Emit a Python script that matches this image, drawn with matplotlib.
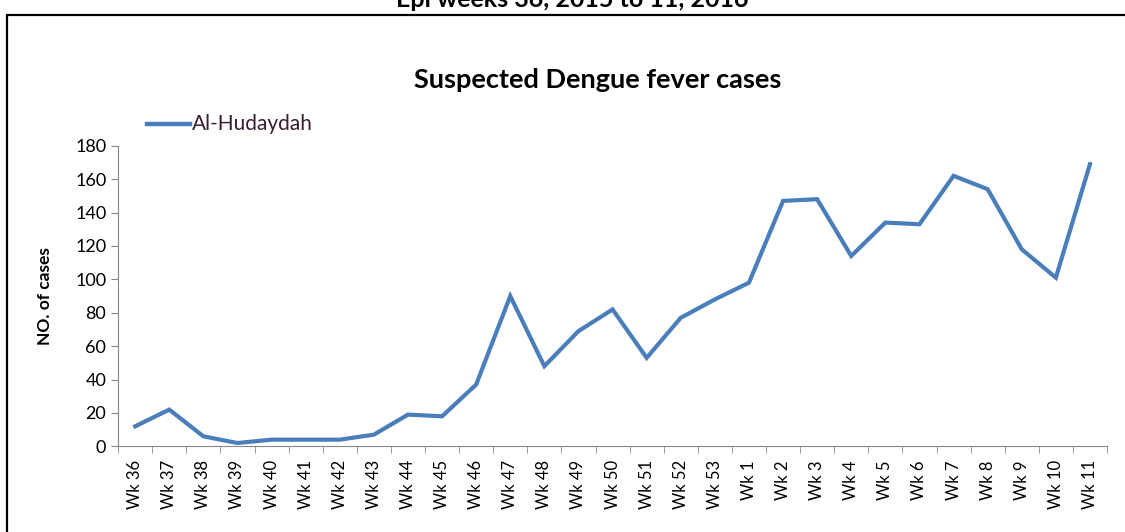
import matplotlib.pyplot as plt
from matplotlib.patches import Rectangle
from matplotlib.lines import Line2D

plt.rcParams['font.family'] = ['Lato', 'DejaVu Sans']

weeks = ['Wk 36', 'Wk 37', 'Wk 38', 'Wk 39', 'Wk 40', 'Wk 41', 'Wk 42', 'Wk 43',
         'Wk 44', 'Wk 45', 'Wk 46', 'Wk 47', 'Wk 48', 'Wk 49', 'Wk 50', 'Wk 51',
         'Wk 52', 'Wk 53', 'Wk 1', 'Wk 2', 'Wk 3', 'Wk 4', 'Wk 5', 'Wk 6', 'Wk 7',
         'Wk 8', 'Wk 9', 'Wk 10', 'Wk 11']
cases = [12, 22, 6, 2, 4, 4, 4, 7, 19, 18, 37, 90, 48, 69, 82, 53, 77, 88, 98,
         147, 148, 114, 134, 133, 162, 154, 118, 101, 169]
yticks = [0, 20, 40, 60, 80, 100, 120, 140, 160, 180]

fig = plt.figure(figsize=(11.25, 5.32), dpi=100)
ax = fig.add_axes([0.105, 0.161, 0.879, 0.565])

x = list(range(len(weeks)))
ax.plot(x, cases, color='#4a7ebb', lw=3, solid_joinstyle='miter')

ax.set_xlim(-0.5, len(weeks) - 0.5)
ax.set_ylim(0, 180)
ax.set_yticks(yticks)
ax.set_xticks(x)
ax.set_xticklabels(weeks, rotation=90, fontsize=12)
ax.set_xticks([i - 0.5 for i in range(len(weeks) + 1)], minor=True)
ax.tick_params(axis='x', which='major', length=0, pad=10)
ax.tick_params(axis='x', which='minor', length=5, color='#888888')
ax.tick_params(axis='y', length=5, color='#888888', labelsize=13)
for s in ['top', 'right']:
    ax.spines[s].set_visible(False)
for s in ['left', 'bottom']:
    ax.spines[s].set_color('#888888')
ax.set_ylabel('NO. of cases', fontsize=12.5, fontweight='bold', labelpad=16)

fig.text(0.531, 0.850, 'Suspected Dengue fever cases', ha='center', va='center',
         fontsize=19.5, fontweight='bold')
# page title above the chart box, cut off by the image edge as in the source
fig.text(0.509, 1 - 7 / 532, 'Epi weeks 36, 2015 to 11, 2016', ha='center',
         va='baseline', fontsize=18, fontweight='bold')

fig.add_artist(Line2D([0.1307, 0.1690], [0.767, 0.767], color='#4a7ebb', lw=3.2))
fig.text(0.1705, 0.767, 'Al-Hudaydah', ha='left', va='center', fontsize=15,
         color='#3b1c32')

fig.add_artist(Rectangle((0.0065, -0.05), 1.05, 1.022, transform=fig.transFigure,
                         fill=False, edgecolor='black', lw=1.6))

fig.savefig('out.png', dpi=100)
